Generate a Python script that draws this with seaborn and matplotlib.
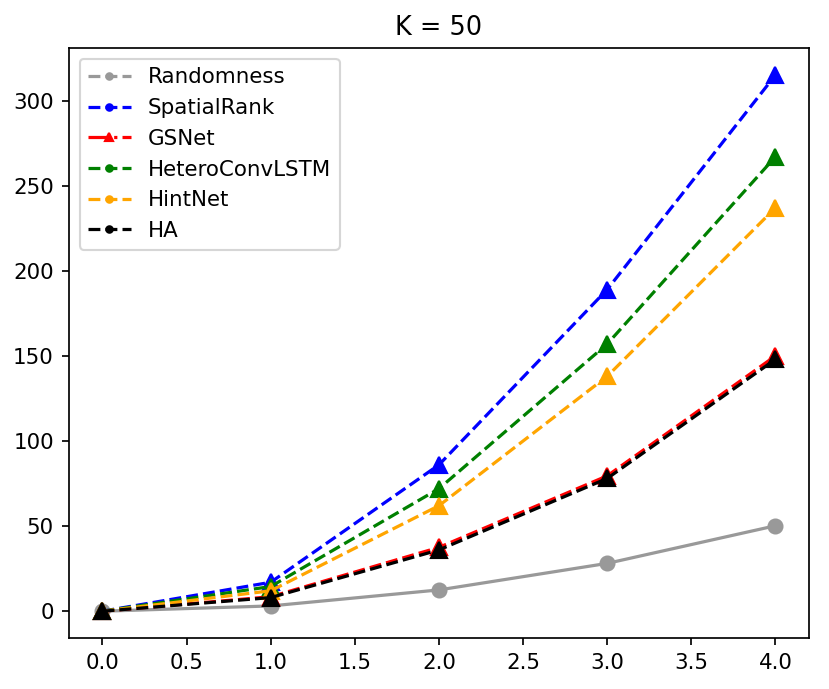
import matplotlib
matplotlib.use("Agg")
import matplotlib.pyplot as plt
from matplotlib.lines import Line2D
import pandas as pd
import seaborn as sns

steps = [0.0, 1.0, 2.0, 3.0, 4.0]

randomness = [0, 3.1, 12.5, 28.1, 50.2]
spatial_rank = [0, 17, 86, 189, 315]
gsnet = [0, 8.5, 37.5, 79.5, 150]
hetero_convlstm = [0, 14.5, 72, 157, 267]
hintnet = [0, 12, 62, 138, 237]
ha = [0, 8, 36, 78, 148]

names = ["Randomness", "SpatialRank", "GSNet", "HeteroConvLSTM", "HintNet", "HA"]
values = [randomness, spatial_rank, gsnet, hetero_convlstm, hintnet, ha]
colors = ["#999999", "blue", "red", "green", "orange", "black"]

DPI = 154


def main():
    fig = plt.figure(figsize=(829 / DPI, 689 / DPI), dpi=DPI)
    ax = fig.add_axes([0.083, 0.074, 0.893, 0.856])

    for name, vals, col in zip(names, values, colors):
        df = pd.DataFrame({"x": steps, "y": vals})
        if name == "Randomness":
            ls, mk, ms = "-", "o", 6.5
        else:
            ls, mk, ms = "--", "^", 7.2
        sns.lineplot(data=df, x="x", y="y", ax=ax, color=col, linestyle=ls,
                     marker=mk, markersize=ms, markeredgecolor=col,
                     markeredgewidth=1, legend=False)

    # legend handles differ from the plotted styles in the original figure
    handles = []
    for name, col in zip(names, colors):
        if name == "GSNet":
            h = Line2D([], [], color=col, linestyle="-.", marker="^", markersize=4)
        else:
            h = Line2D([], [], color=col, linestyle="--", marker=".", markersize=6)
        handles.append(h)
    ax.legend(handles, names, loc="upper left")

    ax.set_xlabel("")
    ax.set_ylabel("")
    ax.set_title("K = 50")
    ax.set_xticks([0.0, 0.5, 1.0, 1.5, 2.0, 2.5, 3.0, 3.5, 4.0])

    fig.savefig("out.png", dpi=DPI)
    plt.close(fig)


if __name__ == "__main__":
    main()
